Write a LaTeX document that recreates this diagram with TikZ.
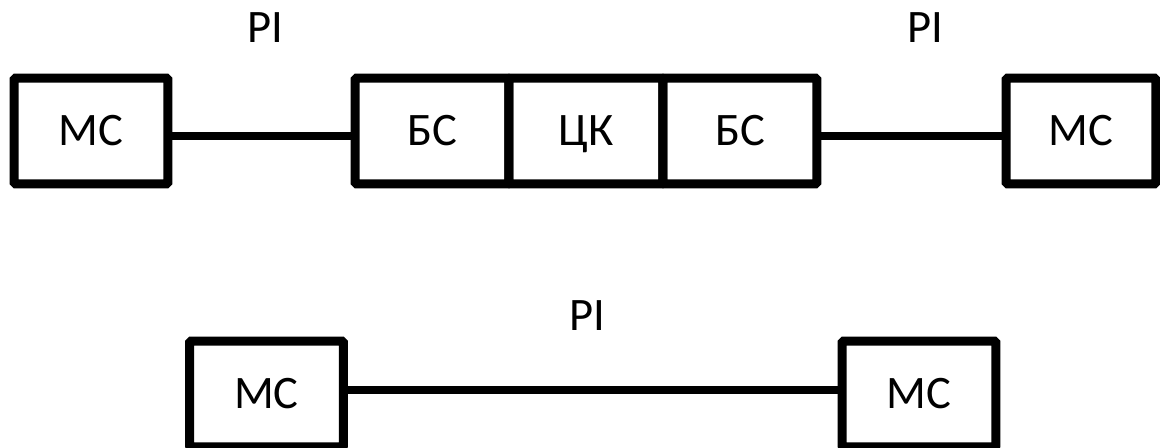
\documentclass[tikz,border=0pt]{standalone}
\usepackage{fontspec}
\setmainfont{Carlito}
\usetikzlibrary{positioning}
\tikzset{
  x=0.02cm, y=-0.02cm,
  unit/.style={rectangle, rounded corners=1pt, draw=black, line width=0.18cm,
               minimum width=3.08cm, minimum height=2.12cm, outer sep=0pt,
               text height=0.58cm, text depth=0pt, inner sep=0pt,
               font=\fontsize{26.5}{31}\selectfont},
  link/.style={line width=0.15cm, draw=black},
  lbl/.style={text height=0.58cm, text depth=0pt, inner sep=0pt,
              font=\fontsize{26.5}{31}\selectfont},
}
\begin{document}
\begin{tikzpicture}
  \useasboundingbox (0,0) rectangle (1160,448);
  % upper chain: MS - BS | SC | BS - MS
  \node[unit] (ms1) at (91,131) {МС};
  \node[unit] (bs1) at (432,131) {БС};
  \node[unit, right=0pt of bs1] (ck) {ЦК};
  \node[unit, right=0pt of ck] (bs2) {БС};
  \node[unit, minimum width=3.0cm] (ms2) at (1081,131) {МС};
  \draw[line width=0.06cm] (ck.north east) -- (ck.south east);
  \draw[link] ([yshift=-0.1cm]ms1.east) -- ([yshift=-0.1cm]bs1.west);
  \draw[link] ([yshift=-0.1cm]bs2.east) -- ([yshift=-0.1cm]ms2.west);
  \node[lbl] (pi1) at (265,28) {РІ};
  \node[lbl] (pi2) at (925,28) {РІ};
  % lower chain: MS - MS directly
  \node[unit] (ms3) at (266.5,394) {МС};
  \node[unit] (ms4) at (919,394) {МС};
  \draw[link] ([yshift=0.08cm]ms3.east) -- ([yshift=0.08cm]ms4.west);
  \node[lbl] (pi3) at (587,316.5) {РІ};
\end{tikzpicture}
\end{document}
